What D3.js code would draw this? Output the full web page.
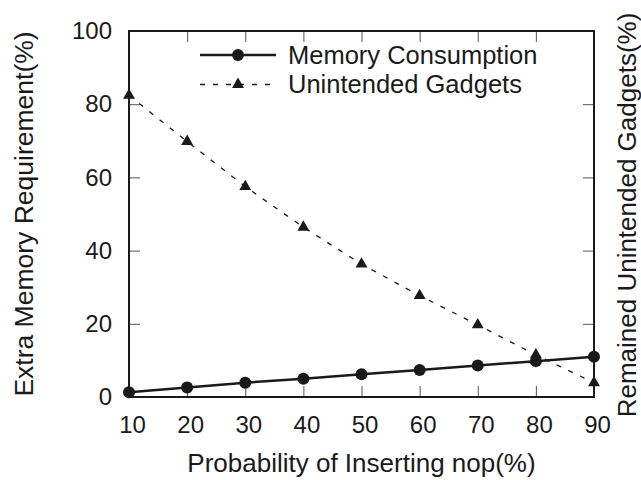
<!DOCTYPE html>
<html>
<head>
<meta charset="utf-8">
<script src="https://cdn.jsdelivr.net/npm/d3@7/dist/d3.min.js"></script>
<style>
  html, body { margin: 0; padding: 0; background: #fff; }
  svg { display: block; font-family: "Liberation Sans", Arial, Helvetica, sans-serif; }
</style>
</head>
<body>
<svg id="chart" width="641" height="480"></svg>
<script>
// ---- data ----
const probabilities = [10, 20, 30, 40, 50, 60, 70, 80, 90];
const memoryConsumption = [1.3, 2.6, 3.9, 5.0, 6.2, 7.4, 8.6, 9.8, 11.0];
const unintendedGadgets = [82.4, 69.8, 57.5, 46.4, 36.3, 27.7, 19.7, 11.5, 3.9];
const xTickValues = [10, 20, 30, 40, 50, 60, 70, 80, 90];
const yTickValues = [0, 20, 40, 60, 80, 100];
const seriesNames = ["Memory Consumption", "Unintended Gadgets"];
const xTitle = "Probability of Inserting nop(%)";
const yTitle = "Extra Memory Requirement(%)";
const y2Title = "Remained Unintended Gadgets(%)";

// ---- layout ----
const plotLeft = 129, plotRight = 594, plotTop = 31, plotBottom = 397;
const ink = "#1a1a1a";
const svg = d3.select("#chart");

const x = d3.scaleLinear().domain([10, 90]).range([plotLeft, plotRight]);
const y = d3.scaleLinear().domain([0, 100]).range([plotBottom, plotTop]);

function styleAxis(g) {
  g.select(".domain").remove();
  g.selectAll(".tick line").attr("stroke", "#555").attr("stroke-width", 1);
  g.selectAll(".tick text").attr("fill", ink).attr("font-size", 24)
    .attr("font-family", "Liberation Sans, Arial, sans-serif");
}

// left axis
svg.append("g").attr("transform", `translate(${plotLeft},0)`)
  .call(d3.axisLeft(y).tickValues(yTickValues).tickSizeInner(-11).tickSizeOuter(0).tickPadding(17))
  .call(styleAxis);
// right axis (ticks only)
svg.append("g").attr("transform", `translate(${plotRight},0)`)
  .call(d3.axisRight(y).tickValues(yTickValues.slice(1, -1)).tickSizeInner(-11).tickSizeOuter(0).tickFormat(""))
  .call(styleAxis);
// bottom axis
svg.append("g").attr("transform", `translate(0,${plotBottom})`)
  .call(d3.axisBottom(x).tickValues(xTickValues).tickSizeInner(-11).tickSizeOuter(0).tickPadding(19))
  .call(styleAxis)
  .call(g => g.selectAll(".tick text").attr("dx", 3));
// top axis (ticks only)
svg.append("g").attr("transform", `translate(0,${plotTop})`)
  .call(d3.axisTop(x).tickValues(xTickValues.slice(1, -1)).tickSizeInner(-11).tickSizeOuter(0).tickFormat(""))
  .call(styleAxis);

// frame
svg.append("rect")
  .attr("x", plotLeft).attr("y", plotTop)
  .attr("width", plotRight - plotLeft).attr("height", plotBottom - plotTop)
  .attr("fill", "none").attr("stroke", ink).attr("stroke-width", 2);

// titles
svg.append("text")
  .attr("x", (plotLeft + plotRight) / 2).attr("y", 472)
  .attr("text-anchor", "middle").attr("font-size", 26).attr("fill", ink)
  .text(xTitle);
svg.append("text")
  .attr("transform", `translate(33,${(plotTop + plotBottom) / 2}) rotate(-90)`)
  .attr("text-anchor", "middle").attr("font-size", 26.5).attr("fill", ink)
  .text(yTitle);
svg.append("text")
  .attr("transform", `translate(636,${(plotTop + plotBottom) / 2 + 1}) rotate(-90)`)
  .attr("text-anchor", "middle").attr("font-size", 26).attr("fill", ink)
  .text(y2Title);

// series
const memData = probabilities.map((p, i) => ({ x: p, y: memoryConsumption[i] }));
const gadData = probabilities.map((p, i) => ({ x: p, y: unintendedGadgets[i] }));
const line = d3.line().x(d => x(d.x)).y(d => y(d.y));

svg.append("path").datum(gadData)
  .attr("d", line).attr("fill", "none").attr("stroke", ink)
  .attr("stroke-width", 1.3).attr("stroke-dasharray", "5,8");
const tri = d3.symbol().type(d3.symbolTriangle).size(62);
svg.append("g").selectAll("path").data(gadData).join("path")
  .attr("d", tri)
  .attr("transform", d => `translate(${x(d.x)},${y(d.y)})`)
  .attr("fill", ink);

svg.append("path").datum(memData)
  .attr("d", line).attr("fill", "none").attr("stroke", ink)
  .attr("stroke-width", 2.5);
svg.append("g").selectAll("circle").data(memData).join("circle")
  .attr("cx", d => x(d.x)).attr("cy", d => y(d.y)).attr("r", 6)
  .attr("fill", ink);

// legend
const legendRows = [
  { name: seriesNames[0], y: 55, dash: null, width: 2.5, marker: "circle" },
  { name: seriesNames[1], y: 84.5, dash: "5,8", width: 1.3, marker: "triangle" }
];
const lg = svg.append("g");
legendRows.forEach(r => {
  lg.append("line").attr("x1", 200).attr("x2", 276).attr("y1", r.y).attr("y2", r.y)
    .attr("stroke", ink).attr("stroke-width", r.width)
    .attr("stroke-dasharray", r.dash);
  if (r.marker === "circle") {
    lg.append("circle").attr("cx", 238).attr("cy", r.y).attr("r", 6).attr("fill", ink);
  } else {
    lg.append("path").attr("d", tri).attr("transform", `translate(238,${r.y})`).attr("fill", ink);
  }
  lg.append("text").attr("x", 288).attr("y", r.y).attr("dy", "0.35em")
    .attr("font-size", 25.5).attr("fill", ink).text(r.name);
});
</script>
</body>
</html>
